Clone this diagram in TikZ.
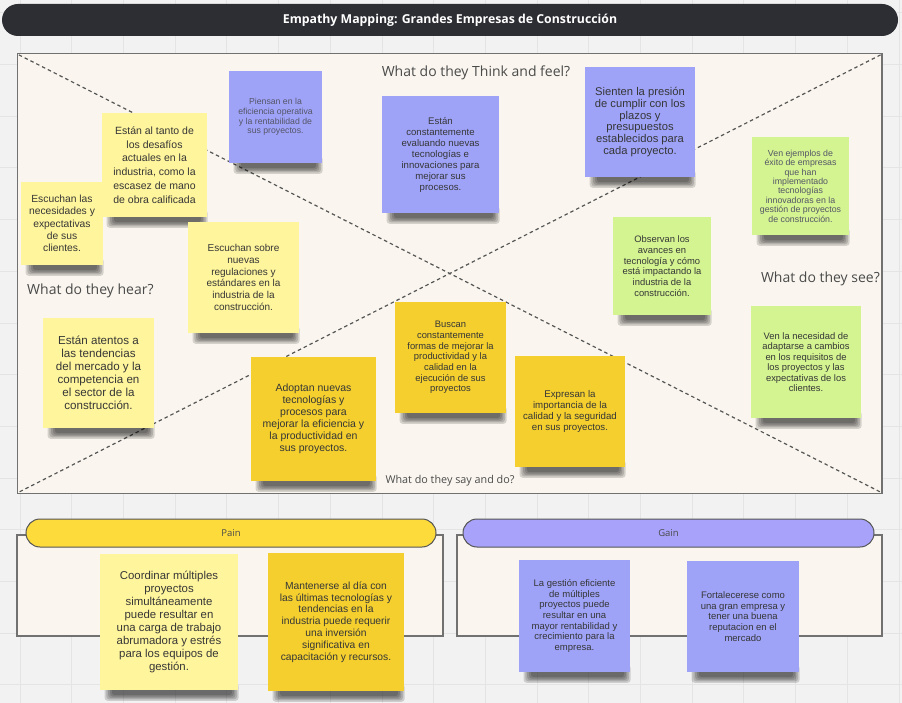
\documentclass[tikz,border=0pt]{standalone}
\usepackage{fontspec}
\setmainfont{Liberation Sans}
\newfontfamily\headfont{Open Sans}
\usetikzlibrary{backgrounds}

\definecolor{canvasbg}{HTML}{F2F2F2}
\definecolor{gridline}{HTML}{E4E4E4}
\definecolor{titlebg}{HTML}{2D2E33}
\definecolor{boxfill}{HTML}{FAF6EF}
\definecolor{boxline}{HTML}{717171}
\definecolor{diagline}{HTML}{555555}
\definecolor{labeltext}{HTML}{4A4A4A}
\definecolor{notetext}{HTML}{363636}
\definecolor{softtext}{HTML}{555566}
\definecolor{paleyellow}{HTML}{FFF59C}
\definecolor{deepyellow}{HTML}{F4CF2E}
\definecolor{lilac}{HTML}{9EA3F8}
\definecolor{lime}{HTML}{D3F491}
\definecolor{painhead}{HTML}{FDDB3B}
\definecolor{gainhead}{HTML}{A8A2FA}

\pgfdeclarelayer{bg}
\pgfdeclarelayer{shade}
\pgfsetlayers{bg,shade,main}

\tikzset{
  stickynote/.style={rectangle, inner sep=0pt, align=center, text=notetext},
  mapbox/.style={rectangle, fill=boxfill, draw=boxline, line width=1.3pt, inner sep=0pt},
  diag/.style={draw=diagline, line width=1.2pt, dash pattern=on 3.5pt off 3pt},
  quadlabel/.style={font=\headfont\fontsize{14}{16}\selectfont, text=labeltext, inner sep=0pt},
  headpill/.style={rectangle, rounded corners=14pt, draw=diagline, line width=1pt,
    inner sep=0pt, font=\headfont\fontsize{9.5}{11}\selectfont, text=labeltext},
  titlebar/.style={rectangle, rounded corners=16pt, fill=titlebg, inner sep=0pt,
    text=white, font=\headfont\bfseries\fontsize{12.3}{14}\selectfont},
  noteshade/.style={black, opacity=0.15, rounded corners=3pt},
}

% sticky note: name, x0, y0, x1, y1, look, size, leading, text
\newcommand\stickynote[9]{%
  \node[stickynote, #6, minimum width={#4-#2}, minimum height={#5-#3},
        font=\fontsize{#7}{#8}\selectfont]
    (#1) at ({(#2+#4)/2},{(#3+#5)/2}) {#9};
  \begin{pgfonlayer}{shade}
    \foreach \k in {0,1,2,3,4}{
      \fill[noteshade]
        ([xshift={12-1.8*\k}, yshift={3+\k}]#1.south west) rectangle
        ([xshift={-6+1.6*\k}, yshift={-5-1.4*\k}]#1.south east);
    }
  \end{pgfonlayer}%
}

\begin{document}
\begin{tikzpicture}[x=1pt, y=-1pt]
\useasboundingbox (0,0) rectangle (902,703);

\begin{pgfonlayer}{bg}
  % canvas with its faint grid
  \fill[canvasbg] (0,0) rectangle (902,703);
  \foreach \i in {0,...,17}{
    \draw[gridline, line width=0.8pt] ({20+51.7*\i},0) -- ({20+51.7*\i},703);
  }
  \foreach \j in {0,...,13}{
    \draw[gridline, line width=0.8pt] (0,{12.7+51.7*\j}) -- (902,{12.7+51.7*\j});
  }
  % empathy map frame and its quadrant diagonals
  \node[mapbox, minimum width=864.5, minimum height=440] (map) at (449.75,273.5) {};
  \draw[diag] ([xshift=2, yshift=-2]map.north west) -- ([xshift=-2, yshift=2]map.south east);
  \draw[diag] ([xshift=-2, yshift=-2]map.north east) -- ([xshift=2, yshift=2]map.south west);
  % pain and gain frames
  \node[mapbox, minimum width=426, minimum height=101] (painbox) at (230,585.5) {};
  \node[mapbox, minimum width=425, minimum height=101] (gainbox) at (669.5,585.5) {};
\end{pgfonlayer}

% title bar
\node[titlebar, minimum width=896, minimum height=32] (title) at (450,20)
  {Empathy Mapping: Grandes Empresas de Construcción};

% quadrant labels
\node[quadlabel] (think) at (476,73) {What do they Think and feel?};
\node[quadlabel, anchor=west] (hear) at (27,291) {What do they hear?};
\node[quadlabel, anchor=east] (see) at (880,279) {What do they see?};
\node[quadlabel, font=\headfont\fontsize{10.8}{12}\selectfont] (say) at (450,481) {What do they say and do?};

% hear
\stickynote{hearA}{102}{113}{207}{217}{fill=paleyellow}{10.5}{13.8}
  {Están al tanto de\\los desafíos\\actuales en la\\industria, como la\\escasez de mano\\de obra calificada}
\stickynote{hearB}{21}{182}{103}{265}{fill=paleyellow}{10.3}{12.3}
  {Escuchan las\\necesidades y\\expectativas\\de sus\\clientes.}
\stickynote{hearC}{188}{222}{299}{333}{fill=paleyellow}{10}{11.7}
  {Escuchan sobre\\nuevas\\regulaciones y\\estándares en la\\industria de la\\construcción.}
\stickynote{hearD}{43}{318}{154}{428}{fill=paleyellow}{11.6}{13}
  {Están atentos a\\las tendencias\\del mercado y la\\competencia en\\el sector de la\\construcción.}

% think and feel
\stickynote{thinkA}{229}{71}{322}{163}{fill=lilac, text=softtext}{8.7}{9.7}
  {Piensan en la\\eficiencia operativa\\y la rentabilidad de\\sus proyectos.}
\stickynote{thinkB}{382}{96}{499}{213}{fill=lilac}{9.6}{11}
  {Están\\constantemente\\evaluando nuevas\\tecnologías e\\innovaciones para\\mejorar sus\\procesos.}
\stickynote{thinkC}{585}{67}{695}{177}{fill=lilac}{11.2}{11.9}
  {Sienten la presión\\de cumplir con los\\plazos y\\presupuestos\\establecidos para\\cada proyecto.}

% see
\stickynote{seeA}{752}{137}{849}{235}{fill=lime, text=softtext}{8.8}{9.4}
  {Ven ejemplos de\\éxito de empresas\\que han\\implementado\\tecnologías\\innovadoras en la\\gestión de proyectos\\de construcción.}
\stickynote{seeB}{613}{217}{711}{315}{fill=lime}{9.4}{10.7}
  {Observan los\\avances en\\tecnología y cómo\\está impactando la\\industria de la\\construcción.}
\stickynote{seeC}{751}{306}{861}{418}{fill=lime}{9.4}{10.5}
  {Ven la necesidad de\\adaptarse a cambios\\en los requisitos de\\los proyectos y las\\expectativas de los\\clientes.}

% say and do
\stickynote{sayA}{251}{357}{376}{481}{fill=deepyellow}{10.5}{11.9}
  {Adoptan nuevas\\tecnologías y\\procesos para\\mejorar la eficiencia y\\la productividad en\\sus proyectos.}
\stickynote{sayB}{395}{302}{506}{413}{fill=deepyellow}{9.4}{10.7}
  {Buscan\\constantemente\\formas de mejorar la\\productividad y la\\calidad en la\\ejecución de sus\\proyectos}
\stickynote{sayC}{515}{356}{625}{467}{fill=deepyellow}{9.7}{11}
  {Expresan la\\importancia de la\\calidad y la seguridad\\en sus proyectos.}

% pain
\node[headpill, fill=painhead, minimum width=410, minimum height=28] (painhdr) at (231,533) {Pain};
\stickynote{painA}{100}{554}{238}{690}{fill=paleyellow}{11.4}{13}
  {Coordinar múltiples\\proyectos\\simultáneamente\\puede resultar en\\una carga de trabajo\\abrumadora y estrés\\para los equipos de\\gestión.}
\stickynote{painB}{268}{553}{404}{691}{fill=deepyellow}{10.3}{11.8}
  {Mantenerse al día con\\las últimas tecnologías y\\tendencias en la\\industria puede requerir\\una inversión\\significativa en\\capacitación y recursos.}

% gain
\node[headpill, fill=gainhead, minimum width=411, minimum height=28] (gainhdr) at (668.5,533) {Gain};
\stickynote{gainA}{519}{560}{630}{672}{fill=lilac}{9.5}{10.7}
  {La gestión eficiente\\de múltiples\\proyectos puede\\resultar en una\\mayor rentabilidad y\\crecimiento para la\\empresa.}
\stickynote{gainB}{687}{561}{799}{672}{fill=lilac}{9.5}{10.6}
  {Fortalecerese como\\una gran empresa y\\tener una buena\\reputacion en el\\mercado}

\end{tikzpicture}
\end{document}
